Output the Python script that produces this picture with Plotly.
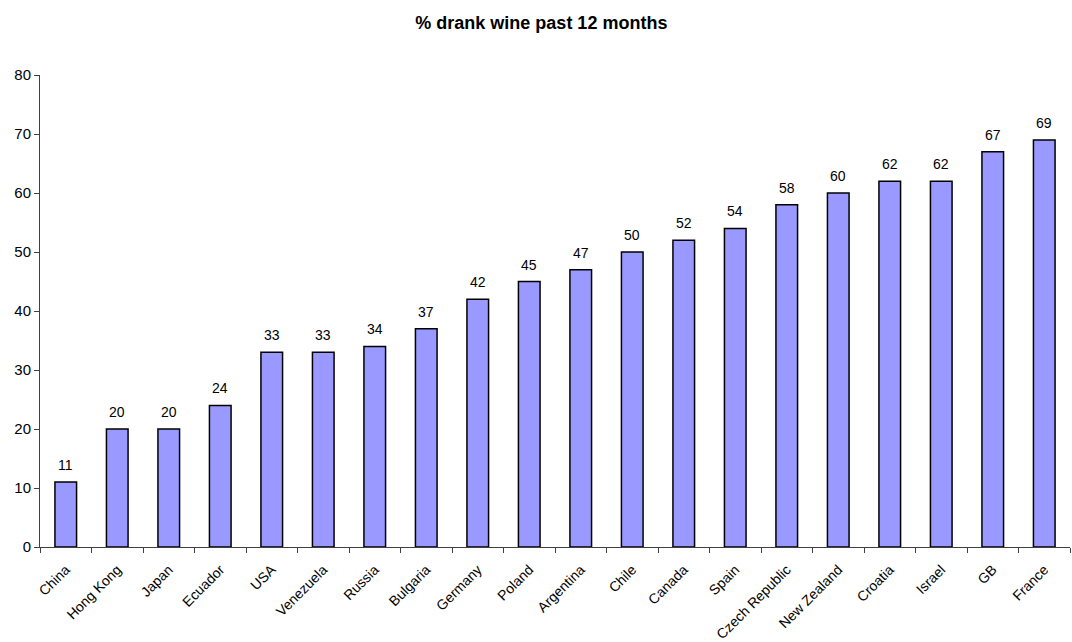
import plotly.graph_objects as go

countries = ["China", "Hong Kong", "Japan", "Ecuador", "USA", "Venezuela", "Russia",
             "Bulgaria", "Germany", "Poland", "Argentina", "Chile", "Canada", "Spain",
             "Czech Republic", "New Zealand", "Croatia", "Israel", "GB", "France"]
values = [11, 20, 20, 24, 33, 33, 34, 37, 42, 45, 47, 50, 52, 54, 58, 60, 62, 62, 67, 69]

FONT = "Liberation Sans, Arial"

fig = go.Figure(go.Bar(
    x=countries, y=values,
    marker=dict(color="#9999FF", line=dict(color="black", width=1.5)),
    width=0.42,
))

for c, v in zip(countries, values):
    fig.add_annotation(x=c, y=v, text=str(v), showarrow=False, yanchor="bottom",
                       yshift=7, font=dict(family=FONT, size=14, color="black"))

fig.update_layout(
    width=1072, height=642,
    margin=dict(l=40, r=2, t=75, b=95),
    paper_bgcolor="white", plot_bgcolor="white",
    font=dict(family=FONT, size=14, color="black"),
    title=dict(text="<b>% drank wine past 12 months</b>", x=0.505, xanchor="center",
               y=0.965, yanchor="middle", font=dict(size=18)),
    showlegend=False,
)
fig.update_xaxes(range=[-0.5, 19.5], tickangle=-45, showline=True, linecolor="#404040",
                 linewidth=1, ticks="outside", tickson="boundaries", ticklen=5,
                 tickcolor="#404040", showgrid=False, tickfont=dict(size=14),
                 ticklabelstandoff=8, automargin=False)
fig.update_yaxes(range=[0, 80], dtick=10, showline=True, linecolor="#404040", linewidth=1,
                 ticks="outside", ticklen=5, tickcolor="#404040", showgrid=False,
                 zeroline=False, tickfont=dict(size=15), automargin=False)

fig.write_html("out.html")
